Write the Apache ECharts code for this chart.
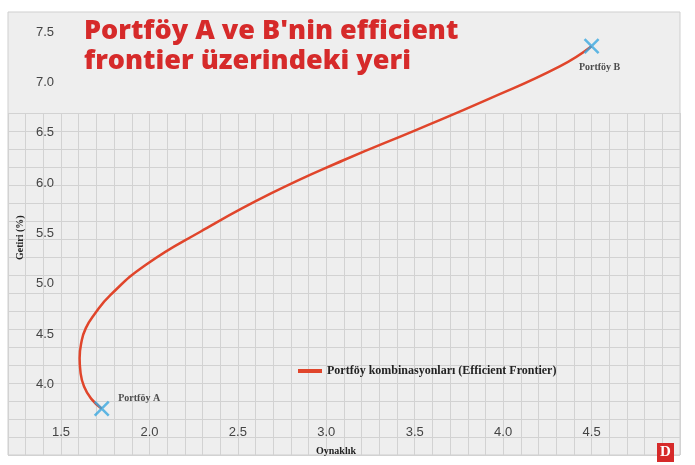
<!DOCTYPE html><html><head><meta charset="utf-8"><script src="https://cdn.jsdelivr.net/npm/echarts@6/dist/echarts.min.js"></script>
<style>html,body{margin:0;background:#fff}#c{width:695px;height:465px}</style></head><body><div id="c"></div><script>
const frontierX=[1.73,1.67,1.63,1.61,1.605,1.615,1.64,1.69,1.78,1.98,2.29,2.69,3.10,3.51,3.91,4.32,4.50];
const frontierY=[3.76,3.86,3.98,4.12,4.26,4.42,4.56,4.70,4.89,5.19,5.52,5.90,6.23,6.53,6.83,7.16,7.36];
const portfolioNames=['Portföy A','Portföy B'];
const portfolioX=[1.73,4.50];
const portfolioY=[3.76,7.36];
const xTicks=[1.5,2.0,2.5,3.0,3.5,4.0,4.5];
const yTicks=[4.0,4.5,5.0,5.5,6.0,6.5,7.0,7.5];
const seriesName='Portföy kombinasyonları (Efficient Frontier)';
const isTick=(arr,v)=>arr.some(t=>Math.abs(t-v)<1e-6);
const ch=echarts.init(document.getElementById('c'));
const fnt='"Liberation Serif",serif';
const lab={inside:true,color:'#444',fontSize:13,fontFamily:'"Liberation Sans Narrow",Arial'};
ch.setOption({
 animation:false,
 backgroundColor:'#ffffff',
 grid:[{left:8,right:15,top:12,bottom:10,show:true,backgroundColor:'#eeeeee',borderColor:'#cfcfcf'},
       {left:8,right:15,top:113,bottom:10,show:false}],
 xAxis:[{type:'value',min:1.2,max:5.0,interval:0.1,gridIndex:0,
  axisLine:{show:false},axisTick:{show:false},splitLine:{show:false},
  axisLabel:Object.assign({margin:16,formatter:v=>isTick(xTicks,v)?v.toFixed(1):''},lab)},
  {type:'value',gridIndex:1,min:0,max:38,interval:1,axisLine:{show:false},axisTick:{show:false},axisLabel:{show:false},
  splitLine:{lineStyle:{color:'#d2d2d2',width:1}}}],
 yAxis:[{type:'value',min:3.3,max:7.7,interval:0.1,gridIndex:0,
  axisLine:{show:false},axisTick:{show:false},splitLine:{show:false},
  axisLabel:Object.assign({margin:28,formatter:v=>isTick(yTicks,v)?v.toFixed(1):''},lab)},
  {type:'value',gridIndex:1,min:0,max:19,interval:1,axisLine:{show:false},axisTick:{show:false},axisLabel:{show:false},
  splitLine:{lineStyle:{color:'#d2d2d2',width:1}}}],
 legend:{show:true,left:293,top:360,itemWidth:24,itemHeight:4,icon:'rect',
  textStyle:{fontFamily:fnt,fontWeight:'bold',fontSize:12,color:'#222'},data:[seriesName]},
 graphic:[
  {type:'text',z:3,left:84,top:16,style:{text:"Portföy A ve B'nin efficient\nfrontier üzerindeki yeri",fill:'#d62a2a',font:'800 27px "Open Sans",sans-serif',lineHeight:30}},
  {type:'text',z:3,x:15,y:260,rotation:Math.PI/2,style:{text:'Getiri (%)',fill:'#222',font:'bold 10px "Liberation Serif",serif'}},
  {type:'text',z:3,x:316,y:446,style:{text:'Oynaklık',fill:'#222',font:'bold 10px "Liberation Serif",serif'}},
  {type:'rect',z:3,shape:{x:657,y:443,width:17,height:19},style:{fill:'#d62a2a'}},
  {type:'text',z:4,x:660,y:445,style:{text:'D',fill:'#fff',font:'bold 15px "Liberation Serif",serif'}}
 ],
 series:[
  {name:seriesName,type:'line',smooth:0.5,symbol:'none',z:5,
   lineStyle:{color:'#e0452b',width:2.5},itemStyle:{color:'#e0452b'},
   data:frontierX.map((x,i)=>[x,frontierY[i]])},
  {type:'scatter',z:6,symbol:'path://M0,0L10,10M10,0L0,10',symbolSize:14,
   itemStyle:{color:'none',borderColor:'#3aa8e0',borderWidth:2.5},
   label:{show:true,formatter:p=>p.value[2],fontFamily:fnt,fontWeight:'bold',fontSize:10,color:'#222'},
   data:portfolioX.map((x,i)=>({value:[x,portfolioY[i],portfolioNames[i]],
     label:i===0?{position:'right',offset:[2,-10]}:{position:'bottom',offset:[8,2]}}))}
 ]
});
</script></body></html>
